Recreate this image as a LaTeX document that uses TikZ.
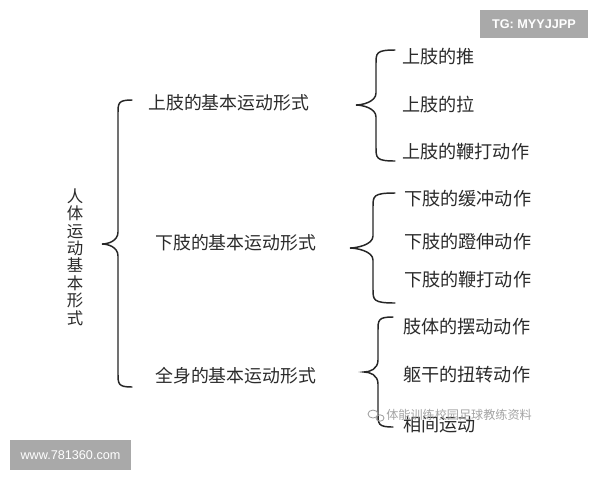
\documentclass[tikz,border=0pt]{standalone}
\usepackage{fontspec}
\newfontfamily\cjk{Noto Sans CJK SC}
\setsansfont{Liberation Sans}
\definecolor{txt}{HTML}{2B2B2B}
\definecolor{boxgray}{HTML}{A9A9A9}
\definecolor{wm}{HTML}{9A9A9A}
\tikzset{
  item/.style={anchor=west, inner sep=0pt, text=txt, font=\cjk\fontsize{13.6}{15}\selectfont},
  mid/.style={anchor=west, inner sep=0pt, text=txt, font=\cjk\fontsize{13.4}{15}\selectfont},
  brace/.style={draw=black!85, line width=1.1pt, line cap=round},
  tag/.style={fill=boxgray, text=white, inner sep=0pt, font=\sffamily\fontsize{9.5}{11}\selectfont}
}
\newcommand{\mybrace}[6]{% xend xmid xtip ytop ytip ybot
  \draw[brace] (#1,#4) .. controls (#2,#4) and (#2,#4+3) .. (#2,#4+14)
    -- (#2,#5-12) .. controls (#2,#5-3) and (#3+6,#5) .. (#3,#5)
    .. controls (#3+6,#5) and (#2,#5+3) .. (#2,#5+12)
    -- (#2,#6-14) .. controls (#2,#6-3) and (#2,#6) .. (#1,#6);}
\begin{document}
\begin{tikzpicture}[x=0.75pt,y=-0.75pt]
\useasboundingbox (0,0) rectangle (600,480);
\fill[white] (0,0) rectangle (600,480);
% watermark boxes
\node[tag, minimum width=81pt, minimum height=21pt, font=\sffamily\bfseries\fontsize{9.5}{11}\selectfont] (tg) at (534,24) {TG: MYYJJPP};
\node[tag, minimum width=90.75pt, minimum height=22.5pt] (www) at (70.5,455) {www.781360.com};
% root
\node[inner sep=0pt, text=txt, align=center, font=\cjk\fontsize{12.3}{13.1}\selectfont] (root) at (75,257)
  {人\\体\\运\\动\\基\\本\\形\\式};
\mybrace{132}{118}{102}{100}{244}{387}
% middle level
\node[mid] (m1) at (148,103) {上肢的基本运动形式};
\node[mid] (m2) at (155,243) {下肢的基本运动形式};
\node[mid] (m3) at (155,376) {全身的基本运动形式};
% braces to leaves
\mybrace{395}{376}{356}{50}{105}{161}
\mybrace{395}{373}{350}{193}{248}{303}
\mybrace{393}{378}{364}{317}{372}{427}
% leaves
\node[item] (a1) at (402,57) {上肢的推};
\node[item] (a2) at (402,105) {上肢的拉};
\node[item] (a3) at (402,152) {上肢的鞭打动作};
\node[item] (b1) at (404,199) {下肢的缓冲动作};
\node[item] (b2) at (404,242) {下肢的蹬伸动作};
\node[item] (b3) at (404,280) {下肢的鞭打动作};
\node[item] (c1) at (403,327) {肢体的摆动动作};
\node[item] (c2) at (403,375) {躯干的扭转动作};
\node[item] (c3) at (403,425) {相间运动};
% overlay watermark
\node[anchor=west, inner sep=0pt, text=wm, opacity=0.9, font=\cjk\fontsize{9.1}{11}\selectfont] (wmk) at (386,415) {体能训练校园足球教练资料};
\draw[wm, line width=0.6pt] (373,414) ellipse [x radius=5, y radius=4];
\draw[wm, line width=0.6pt] (380,418) ellipse [x radius=4, y radius=3.2];
\end{tikzpicture}
\end{document}
